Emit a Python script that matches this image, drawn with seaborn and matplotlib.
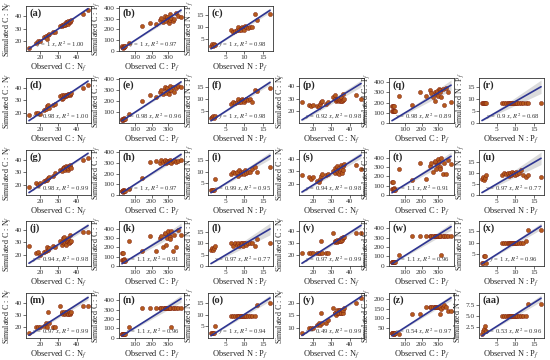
import numpy as np
import matplotlib
matplotlib.use("Agg")
import matplotlib.pyplot as plt
from matplotlib.ticker import FixedLocator
import seaborn as sns

# observed ratios (shared by all panels of the same kind)
obs_cn = [14, 18, 19, 20, 22, 23, 24, 24.5, 25, 27, 28, 31, 32, 32, 32.5, 33, 33, 33.5, 34, 34,
          34.5, 35, 35, 35.5, 36, 36, 37, 43, 46]
obs_cp = [20, 22, 25, 28, 30, 32, 35, 40, 60, 140, 190, 230, 250, 260, 270, 280, 285, 290, 295, 300,
          305, 310, 315, 320, 330, 340, 350, 360, 380]
obs_np = [1.0, 1.2, 1.5, 1.8, 2.0, 6.5, 7.0, 7.5, 8.0, 8.3, 8.6, 9.0, 9.2, 9.5, 9.8, 10.0, 10.2,
          10.5, 11.0, 11.5, 12.0, 13.0, 13.5, 17.0]

# simulated values per panel
sim_a = [15, 19, 20, 20, 23, 24, 22, 25, 26, 27, 27, 32, 32, 33, 33, 33, 34, 33, 34, 35, 35, 34, 36, 35, 35, 36, 37, 42, 45]
sim_d = [18, 20, 20, 19, 22, 23, 25, 26, 24, 26, 27, 33, 31, 34, 32, 33, 34, 33, 33, 34, 34, 35, 34, 35, 34, 35, 36, 40, 42]
sim_g = [18, 21, 20, 21, 23, 24, 24, 25, 26, 27, 29, 32, 32, 31, 33, 34, 33, 32, 33, 35, 34, 32, 33, 35, 34, 36, 33, 40, 41]
sim_j = [27, 21, 22, 20, 22, 23, 26, 24, 25, 27, 26, 31, 28, 30, 33, 34, 29, 30, 32, 28, 31, 32, 33, 29, 30, 36, 31, 38, 38]
sim_m = [15, 20, 20, 20, 21, 24, 20, 33, 24, 20, 20, 38, 32, 33, 31, 32, 33, 31, 32, 33, 33, 31, 31, 33, 31, 32, 33, 38, 38]
sim_p = [27, 25, 24, 25, 24, 23, 26, 27, 28, 26, 27, 31, 30, 33, 28, 29, 30, 29, 28, 30, 29, 28, 31, 28, 29, 34, 30, 33, 30]
sim_s = [27, 25, 24, 25, 22, 21, 24, 26, 28, 27, 28, 30, 29, 33, 31, 30, 34, 29, 33, 28, 30, 32, 35, 29, 31, 34, 36, 35, 32]
sim_v = [22, 22, 22, 22, 22, 22, 22, 32, 22, 22, 22, 38, 31, 32, 32, 31, 33, 32, 32, 33, 32, 34, 32, 33, 34, 35, 35, 38, 38]
sim_y = [8, 10, 10, 10, 11, 12, 11, 16, 12, 12, 13, 18, 16, 16, 15, 16, 17, 16, 16, 17, 17, 16, 16, 17, 16, 17, 18, 20, 22]

sim_b = [40, 45, 35, 30, 50, 40, 35, 45, 70, 230, 260, 250, 290, 310, 270, 300, 330, 280, 320, 300, 260, 290, 340, 310, 280, 300, 350, 330, 320]
sim_e = [30, 40, 35, 30, 45, 40, 35, 40, 80, 200, 250, 240, 280, 300, 260, 310, 330, 270, 320, 290, 260, 300, 340, 300, 330, 280, 320, 340, 330]
sim_h = [40, 35, 45, 30, 50, 40, 35, 40, 60, 160, 310, 320, 300, 330, 310, 320, 330, 300, 320, 310, 320, 330, 310, 300, 320, 330, 310, 320, 330]
sim_k = [140, 60, 140, 60, 50, 70, 60, 50, 270, 160, 330, 160, 300, 330, 200, 350, 360, 230, 300, 380, 340, 310, 290, 380, 160, 340, 200, 390, 340]
sim_n = [40, 40, 40, 40, 40, 40, 40, 40, 120, 320, 320, 320, 320, 320, 320, 320, 320, 320, 320, 320, 320, 320, 320, 120, 320, 320, 320, 320, 320]
sim_q = [120, 170, 120, 170, 120, 170, 120, 120, 260, 180, 300, 260, 320, 290, 250, 220, 300, 280, 310, 260, 330, 320, 300, 250, 330, 180, 340, 300, 210]
sim_t = [140, 60, 140, 60, 50, 70, 60, 50, 280, 160, 340, 170, 310, 340, 250, 360, 370, 280, 320, 390, 350, 300, 280, 400, 230, 340, 220, 380, 330]
sim_w = [40, 40, 40, 40, 40, 40, 40, 40, 120, 320, 320, 320, 320, 320, 320, 320, 320, 320, 320, 320, 320, 320, 320, 120, 320, 320, 320, 320, 320]
sim_z = [25, 25, 20, 25, 20, 25, 20, 25, 20, 120, 120, 160, 160, 160, 160, 160, 160, 160, 160, 160, 160, 120, 160, 150, 160, 170, 160, 140, 140]

sim_c = [2, 3, 2, 3, 2.5, 9, 8, 8.5, 9, 10, 9, 9.5, 8.8, 10, 9.5, 9, 10.5, 10, 9.5, 10, 10, 15.5, 13, 15.5]
sim_f = [2, 2.5, 3, 2, 3, 8, 9, 8.5, 9, 10, 9, 9.5, 8.8, 10, 9.5, 9, 9.5, 10, 9.5, 10, 9, 14, 13.5, 14.5]
sim_i = [2, 2, 2, 2, 7, 9, 10, 9.5, 10, 8, 10.5, 9, 10, 9.5, 10, 9, 10.5, 9.5, 10, 10, 11, 12, 10, 12]
sim_l = [7, 8, 7, 8, 9, 10, 9, 10, 9.5, 10, 9, 10, 9.5, 10, 9, 10, 10, 9.5, 10, 10, 10, 9, 12, 10]
sim_o = [2, 2, 2, 2, 5, 9.5, 9.5, 9.5, 9.5, 9.5, 9.5, 9.5, 9.5, 9.5, 9.5, 9.5, 9.5, 9.5, 9.5, 9.5, 9.5, 9.5, 14, 15]
sim_r = [8.3] * 24
sim_u = [7, 8, 6.5, 7.5, 9, 9, 10, 9.5, 10, 8.5, 10, 9, 10.5, 9.5, 10, 9, 10.5, 9.5, 10, 11, 9, 8, 9, 8]
sim_x = [1.5, 1.5, 4.5, 4.5, 1.5, 10, 10, 10, 10, 10, 10, 10, 10, 10, 10, 10, 10, 10, 10, 10, 10, 10.5, 15.5, 15.5]
sim_aa = [1, 1.5, 2, 2.8, 1.5, 5, 5, 5, 5, 5, 5, 5, 5, 5, 5, 5, 5, 5, 5, 5, 5, 5, 7.8, 7.8]

panel_ids = ['a', 'b', 'c', 'd', 'e', 'f', 'g', 'h', 'i', 'j', 'k', 'l', 'm', 'n', 'o',
             'p', 'q', 'r', 's', 't', 'u', 'v', 'w', 'x', 'y', 'z', 'aa']
slopes = ['1', '1', '1', '0.98', '0.98', '1', '0.98', '1', '0.99', '0.94', '1.1', '0.97', '0.97', '1.1', '1',
          '0.92', '0.98', '0.9', '0.94', '1.1', '0.97', '0.97', '1.1', '1', '0.49', '0.54', '0.53']
r2 = ['1.00', '0.97', '0.98', '1.00', '0.96', '0.98', '0.99', '0.97', '0.95', '0.98', '0.91', '0.77', '0.99', '0.96', '0.94',
      '0.98', '0.89', '0.68', '0.98', '0.91', '0.77', '0.99', '0.96', '0.96', '0.99', '0.97', '0.96']
sims = [sim_a, sim_b, sim_c, sim_d, sim_e, sim_f, sim_g, sim_h, sim_i, sim_j, sim_k, sim_l, sim_m, sim_n, sim_o,
        sim_p, sim_q, sim_r, sim_s, sim_t, sim_u, sim_v, sim_w, sim_x, sim_y, sim_z, sim_aa]

kinds = {'cn': (obs_cn, 'C', 'N'), 'cp': (obs_cp, 'C', 'P'), 'np': (obs_np, 'N', 'P')}
kind_cycle = ['cn', 'cp', 'np']
yticks = {'cn': [10, 20, 30, 40], 'cp': [0, 100, 200, 300, 400], 'np': [0, 5, 10, 15]}
xticks = {'cn': [20, 30, 40], 'cp': [100, 200, 300], 'np': [5, 10, 15]}
yticks_half = {'cn': [10, 15, 20], 'cp': [50, 100, 150, 200], 'np': [2.5, 5.0, 7.5]}

sns.set_theme(style="ticks")
plt.rcParams['font.family'] = ['Liberation Serif', 'DejaVu Serif']
plt.rcParams['mathtext.fontset'] = 'stix'

fig = plt.figure(figsize=(5.5, 3.6), dpi=100)

col_left = [26, 119, 208, 299, 389, 479]
row_top = [6, 78, 150, 221, 293]
W, H = 65, 45

PT = '#b45a1c'
LINE = '#2e3592'

for idx, pid in enumerate(panel_ids):
    if idx < 15:
        row, col = idx // 3, idx % 3
    else:
        row, col = 1 + (idx - 15) // 3, 3 + (idx - 15) % 3
    kind = kind_cycle[col % 3]
    obs, num, den = kinds[kind]
    sim = sims[idx]
    ax = fig.add_axes([col_left[col] / 550, 1 - (row_top[row] + H) / 360, W / 550, H / 360])

    x = np.array(obs, float)
    y = np.array(sim, float)
    k = float(slopes[idx])
    xs = np.linspace(x.min(), x.max(), 50)
    # standard error of a through-origin slope
    resid = y - k * x
    se = np.sqrt((resid ** 2).sum() / (len(x) - 1) / (x ** 2).sum())
    ax.fill_between(xs, (k - 1.96 * se) * xs, (k + 1.96 * se) * xs, color='0.65', alpha=0.4, lw=0, zorder=1)
    sns.scatterplot(x=x, y=y, ax=ax, color=PT, s=9, edgecolor='#7a1a10', linewidth=0.3, zorder=3)
    ax.plot(xs, k * xs, color=LINE, lw=1.2, zorder=4)

    ax.text(0.06, 0.94, f'({pid})', transform=ax.transAxes, ha='left', va='top',
            fontsize=7.5, fontweight='bold')
    ax.text(0.53, 0.03, f'$y$ = {slopes[idx]} $x$, $R^2$ = {r2[idx]}', transform=ax.transAxes,
            ha='center', va='bottom', fontsize=4.8, color='#333333')

    ax.set_xlabel(f'Observed {num} : {den}$_{{f}}$', fontsize=6, labelpad=1)
    ax.set_ylabel(f'Simulated {num} : {den}$_{{f}}$', fontsize=5.8, labelpad=1)
    ax.tick_params(labelsize=5.3, length=2, pad=1, colors='#333333', width=0.5)
    ax.xaxis.set_major_locator(FixedLocator(xticks[kind]))
    if pid in ('y', 'z', 'aa'):
        ax.yaxis.set_major_locator(FixedLocator(yticks_half[kind]))
    else:
        ax.yaxis.set_major_locator(FixedLocator(yticks[kind]))
    for sp in ax.spines.values():
        sp.set_linewidth(0.6)
        sp.set_color('#333333')

fig.savefig('out.png', dpi=100)
